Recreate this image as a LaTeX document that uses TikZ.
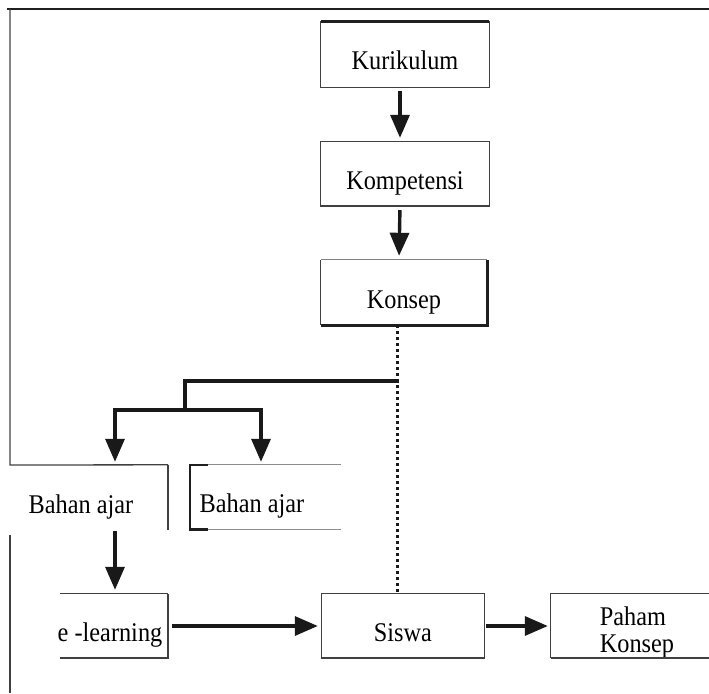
\documentclass[tikz,border=0pt]{standalone}
\usepackage{fontspec}
\setmainfont[FakeStretch=0.9]{Liberation Serif}
\usetikzlibrary{arrows.meta}

\begin{document}
\begin{tikzpicture}[x=1pt,y=-1pt,
	box/.style={minimum width=168pt,minimum height=65pt,inner sep=0pt,text height=31pt,text depth=0pt,font=\fontsize{27}{27}\selectfont},
	edge/.style={draw=black!75,line width=1.3pt},
	heavy/.style={draw=black!88,line width=2.6pt},
	branch/.style={draw=black!90,line width=3.4pt},
	flow/.style={branch,-{Triangle[length=23pt,width=19pt]}},
	dots/.style={draw=black!90,line width=3pt,dash pattern=on 3pt off 3pt}]
	\useasboundingbox (0,0) rectangle (709,693);
	\clip (0,0) rectangle (709,693);

	\node[box] (kur) at (405,54.5) {Kurikulum};
	\node[box,minimum height=64pt] (kom) at (405,174) {Kompetensi};
	\node[box,minimum width=166pt] (kon) at (404,292.5) {Konsep};
	\node[box,minimum width=174pt] (ba1) at (81,497.5) {Bahan ajar};
	\node[box,minimum width=124pt,minimum height=64pt] (ba2) at (252,497) {Bahan ajar};
	\node[box,minimum width=116pt,minimum height=64pt] (el) at (110,626) {e -learning};
	\node[box,minimum width=162pt,minimum height=64pt] (sis) at (403,626) {Siswa};
	\node[box,minimum width=172pt,minimum height=64pt,align=left,text height=52pt,text depth=0pt] (pk) at (637,626) {Paham\\Konsep};

	% frame
	\draw[heavy,line width=2.4pt] (7,9) -- (709,9);
	\draw[edge] (10,9) -- (10,465) -- (ba1.north east);
	\draw[edge] (10,535) -- (10,693);

	% boxes
	\draw[edge] (kur.south west) rectangle (kur.north east);
	\draw[heavy] (kur.north west) -- (kur.north east);
	\draw[edge] (kom.south west) rectangle (kom.north east);
	\draw[edge,line width=2pt] (kom.south west) -- (kom.south east);
	\draw[edge,draw=black!50] (kon.north west) -- (kon.north east);
	\draw[edge] (kon.north west) -- (kon.south west);
	\draw[heavy] (kon.north east) -- (kon.south east) -- (kon.south west);
	\draw[edge,line width=2.2pt] (ba1.north east) -- (ba1.south east);
	\draw[edge,draw=black!45] (ba2.north west) -- ++(151,0);
	\draw[edge,draw=black!45] (ba2.south west) -- ++(151,0);
	\draw[heavy] ([xshift=18]ba2.north west) -- (ba2.north west) -- (ba2.south west) -- ++(18,0);
	\draw[edge] ([xshift=8]el.north west) -- (el.north east);
	\draw[edge,line width=2.2pt] (el.north east) -- (el.south east) -- ([xshift=8]el.south west);
	\draw[edge] (sis.south west) rectangle (sis.north east);
	\draw[edge,line width=2.2pt] (sis.south west) -- (sis.south east);
	\draw[edge] (pk.north east) -- (pk.north west) -- (pk.south west);
	\draw[edge,line width=2.2pt] (pk.south west) -- (pk.south east);

	% connectors
	\coordinate (trunk) at (397,381);
	\coordinate (bend) at (185,410);
	\draw[flow,shorten <=4pt,shorten >=4pt] ([xshift=-5]kur.south) -- ([xshift=-5]kom.north);
	\draw[flow,shorten <=4pt,shorten >=4pt] ([xshift=-5]kom.south) -- ([xshift=-5]kon.north);
	\draw[dots] (kon.south -| trunk) -- (sis.north -| trunk);
	\draw[branch] ([xshift=2]trunk) -| (bend);
	\draw[flow,shorten >=3pt] (bend) -| ([xshift=34]ba1.north);
	\draw[flow,shorten >=3pt] (bend) -| ([xshift=9]ba2.north);
	\draw[flow,shorten <=1pt,shorten >=4pt] ([xshift=34]ba1.south) -- ([xshift=5]el.north);
	\draw[flow,shorten <=4pt,shorten >=4pt] (el.east) -- (sis.west);
	\draw[flow,shorten <=2pt,shorten >=3pt] (sis.east) -- (pk.west);
\end{tikzpicture}
\end{document}
